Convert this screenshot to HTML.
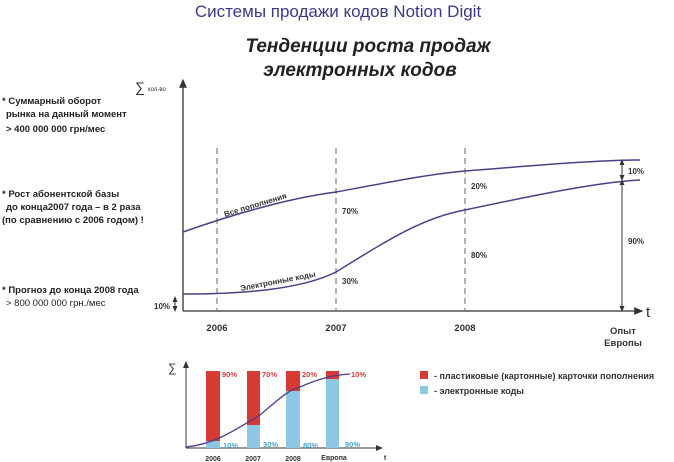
<!DOCTYPE html>
<html><head><meta charset="utf-8"><style>
body{margin:0;background:#fff;width:674px;height:462px;overflow:hidden}
svg{display:block}
text{font-family:"Liberation Sans",sans-serif}
</style></head><body>
<svg width="674" height="462" viewBox="0 0 674 462">
<defs>
<marker id="a" markerWidth="8" markerHeight="8" refX="6" refY="4" orient="auto"><path d="M0,1 L7,4 L0,7 Z" fill="#333"/></marker>
<marker id="b" markerWidth="6" markerHeight="6" refX="3" refY="3" orient="auto-start-reverse"><path d="M0,0.5 L6,3 L0,5.5 Z" fill="#333"/></marker>
</defs>
<text x="338" y="17" font-size="17" fill="#3a3a8a" text-anchor="middle" transform="scale(1,1)">Системы продажи кодов Notion  Digit</text>
<text x="368" y="52" font-size="19" font-weight="bold" font-style="italic" fill="#222" text-anchor="middle">Тенденции  роста  продаж</text>
<text x="360" y="76" font-size="19" font-weight="bold" font-style="italic" fill="#222" text-anchor="middle">электронных  кодов</text>
<g font-size="9.5" font-weight="bold" fill="#222">
<text x="2" y="104">*  Суммарный  оборот</text>
<text x="6" y="117">рынка  на  данный  момент</text>
<text x="6" y="132">&gt; 400  000  000  грн/мес</text>
<text x="2" y="197">*  Рост  абонентской  базы</text>
<text x="6" y="210">до  конца2007 года – в  2  раза</text>
<text x="2" y="223">(по  сравнению  с  2006  годом)  !</text>
<text x="2" y="293">*  Прогноз  до  конца 2008 года</text>
<text x="6" y="306" font-weight="normal">&gt;  800  000  000  грн./мес</text>
</g>
<text x="135" y="92" font-size="14" fill="#333">∑</text>
<text x="148" y="91" font-size="6" fill="#333">кол-во</text>
<line x1="183" y1="311" x2="183" y2="80" stroke="#333" stroke-width="1.3" marker-end="url(#a)"/>
<line x1="183" y1="311" x2="642" y2="311" stroke="#333" stroke-width="1.3" marker-end="url(#a)"/>
<text x="646" y="317" font-size="15" fill="#333">t</text>
<g stroke="#666" stroke-dasharray="6,4" stroke-width="1">
<line x1="217" y1="148" x2="217" y2="311"/><line x1="336" y1="148" x2="336" y2="311"/><line x1="465" y1="148" x2="465" y2="311"/>
</g>
<path d="M183,232 C240,212 290,198 336,192 C390,182 430,174 465,171 C540,165 600,160 640,160" fill="none" stroke="#4a3f8a" stroke-width="1.5"/>
<path d="M183,294 C240,294 300,290 336,272 C380,245 420,218 465,210 C540,194 600,182 640,180" fill="none" stroke="#4a3f8a" stroke-width="1.5"/>
<line x1="622" y1="162" x2="622" y2="178" stroke="#333" marker-start="url(#b)" marker-end="url(#b)"/>
<line x1="622" y1="182" x2="622" y2="309" stroke="#333" marker-start="url(#b)" marker-end="url(#b)"/>
<line x1="175" y1="299" x2="175" y2="309" stroke="#333" marker-start="url(#b)" marker-end="url(#b)"/>
<g font-size="8" font-weight="bold" fill="#333">
<text x="225" y="217" transform="rotate(-17 225 217)">Все пополнения</text>
<text x="241" y="291" transform="rotate(-11 241 291)">Электронные коды</text>
<text x="342" y="214">70%</text><text x="342" y="284">30%</text>
<text x="471" y="189">20%</text><text x="471" y="258">80%</text>
<text x="628" y="174">10%</text><text x="628" y="244">90%</text>
<text x="154" y="309">10%</text>
</g>
<g font-size="9.5" font-weight="bold" fill="#333" text-anchor="middle">
<text x="217" y="331">2006</text><text x="336" y="331">2007</text><text x="465" y="331">2008</text>
<text x="623" y="334">Опыт</text><text x="623" y="346">Европы</text>
</g>
<text x="168" y="372" font-size="12" fill="#333">∑</text>
<line x1="186" y1="448" x2="186" y2="362" stroke="#333" marker-end="url(#a)"/>
<line x1="186" y1="448" x2="382" y2="448" stroke="#333" marker-end="url(#a)"/>
<g>
<rect x="206" y="371" width="14" height="70" fill="#d63a35"/><rect x="206" y="441" width="14" height="7" fill="#8ec6e4"/>
<rect x="247" y="371" width="13" height="54" fill="#d63a35"/><rect x="247" y="425" width="13" height="23" fill="#8ec6e4"/>
<rect x="286" y="371" width="14" height="20" fill="#d63a35"/><rect x="286" y="391" width="14" height="57" fill="#8ec6e4"/>
<rect x="326" y="371" width="13" height="8" fill="#d63a35"/><rect x="326" y="379" width="13" height="69" fill="#8ec6e4"/>
</g>
<path d="M186,447 C215,444 235,430 260,415 C280,398 290,389 300,387 C320,378 335,375 350,374" fill="none" stroke="#4a3f8a" stroke-width="1.3"/>
<g font-size="7.5" font-weight="bold">
<g fill="#d63a35"><text x="222" y="377">90%</text><text x="262" y="377">70%</text><text x="302" y="377">20%</text><text x="351" y="377">10%</text></g>
<g fill="#4aa3d0"><text x="223" y="448">10%</text><text x="263" y="447">30%</text><text x="303" y="448">80%</text><text x="345" y="447">90%</text></g>
</g>
<g font-size="7" font-weight="bold" fill="#333" text-anchor="middle">
<text x="213" y="461">2006</text><text x="253" y="461">2007</text><text x="293" y="461">2008</text><text x="334" y="460">Европа</text><text x="385" y="460">t</text>
</g>
<rect x="420" y="371" width="8" height="8" fill="#d63a35"/>
<rect x="420" y="386" width="8" height="8" fill="#8ec6e4"/>
<text x="434" y="379" font-size="9" font-weight="bold" fill="#333">- пластиковые (картонные) карточки пополнения</text>
<text x="434" y="394" font-size="9" font-weight="bold" fill="#333">- электронные коды</text>
</svg>
</body></html>
